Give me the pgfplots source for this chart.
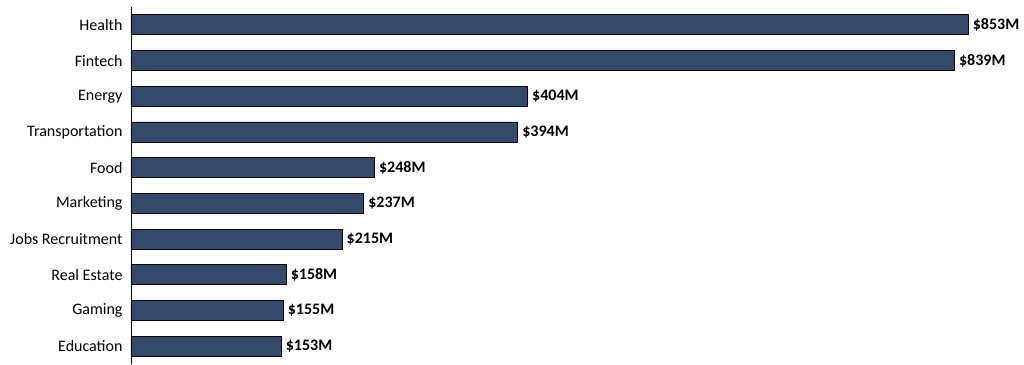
\documentclass[border=0pt]{standalone}
\usepackage{pgfplots}
\pgfplotsset{compat=1.18}
\usepackage{fontspec}
\setmainfont{Carlito}
\definecolor{barblue}{RGB}{53,74,107}
\begin{document}
\begin{tikzpicture}[x=1pt,y=1pt]
\useasboundingbox (-131,0) rectangle (893,364);
\begin{axis}[
  at={(0,0)}, anchor=south west,
  scale only axis,
  width=893pt, height=357pt,
  xbar, bar width=20pt,
  xmin=0, xmax=910,
  ymin=-0.5, ymax=9.5,
  y dir=reverse,
  ytick={0,...,9},
  yticklabels={Health,Fintech,Energy,Transportation,Food,Marketing,Jobs Recruitment,Real Estate,Gaming,Education},
  yticklabel style={font=\fontsize{16}{18}\selectfont, xshift=-5pt},
  major tick length=0pt,
  axis x line=none,
  axis y line*=left,
  y axis line style={black, line width=0.9pt, -},
  xtick=\empty,
  clip=false,
  /pgf/number format/assume math mode=true,
  nodes near coords={\textbf{\$\pgfmathprintnumber{\pgfplotspointmeta}M}},
  point meta=x,
  nodes near coords style={font=\fontsize{16}{18}\selectfont\bfseries, anchor=west, xshift=1pt},
]
\addplot[fill=barblue, draw=black, line width=0.8pt] coordinates {
(853,0) (839,1) (404,2) (394,3) (248,4) (237,5) (215,6) (158,7) (155,8) (153,9)
};
\end{axis}
\end{tikzpicture}
\end{document}
